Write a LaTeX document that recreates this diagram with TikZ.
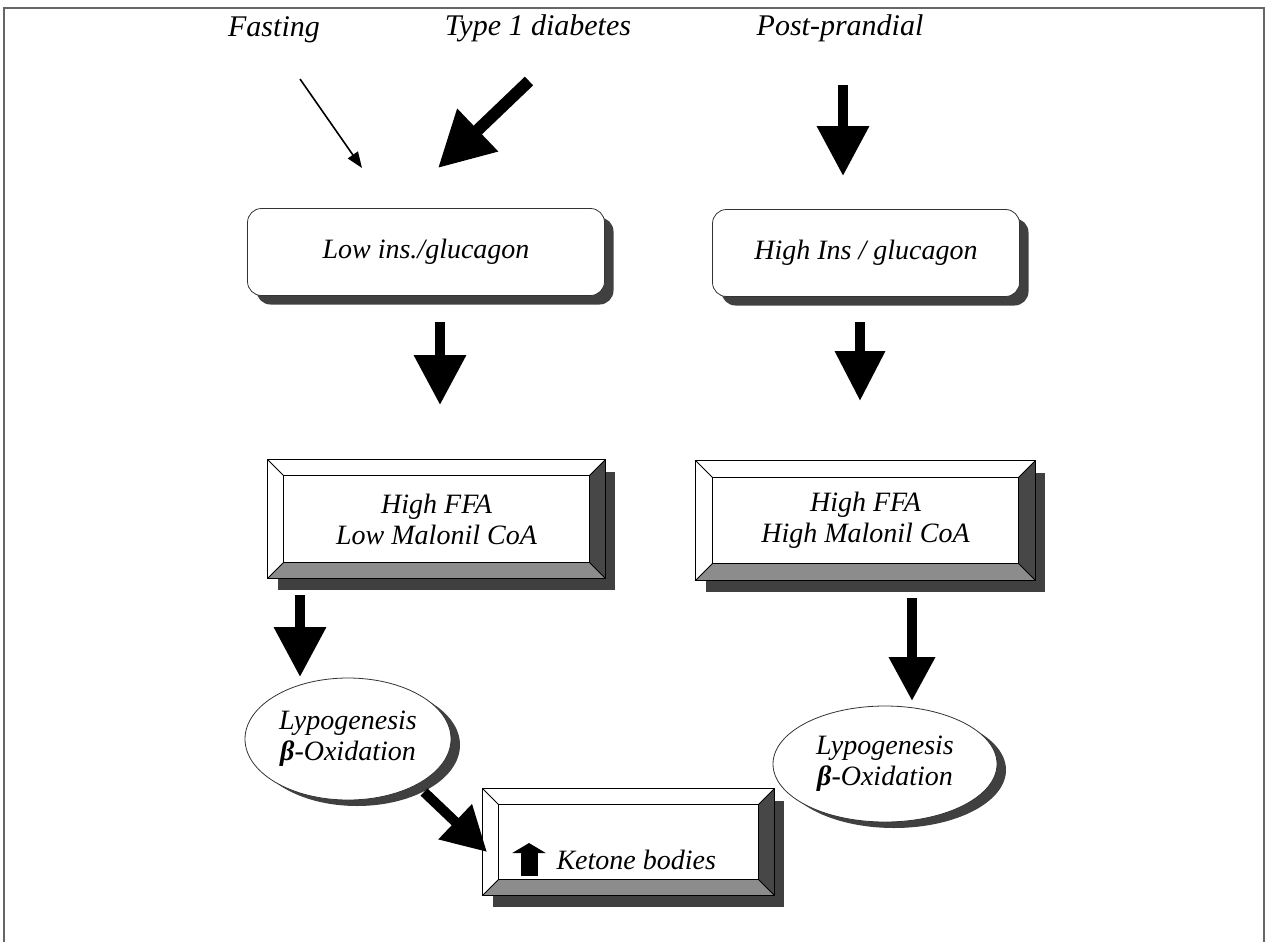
\documentclass[tikz,border=0pt]{standalone}
\usepackage{fontspec}
\setmainfont{Liberation Serif}
\usetikzlibrary{arrows.meta,shapes.geometric,shadows,calc}
\pgfdeclarelayer{background}
\pgfsetlayers{background,main}
\newcommand\bevelframe[2]{%
  \fill[black!75] ($(#1.north east)+(10,12)$) rectangle ($(#1.south west)+(10,12)$);
  \fill[white] (#1.north west) rectangle (#1.south east);
  \fill[black!45] (#1.south west) -- (#1.south east) -- ($(#1.south east)+(-#2,-#2)$) -- ($(#1.south west)+(#2,-#2)$) -- cycle;
  \fill[black!72] (#1.south east) -- (#1.north east) -- ($(#1.north east)+(-#2,#2)$) -- ($(#1.south east)+(-#2,-#2)$) -- cycle;
  \draw[line width=0.9pt] (#1.north west) rectangle (#1.south east);
  \draw[line width=0.9pt] ($(#1.north west)+(#2,#2)$) rectangle ($(#1.south east)+(-#2,-#2)$);
  \draw[line width=0.8pt] (#1.north west) -- ($(#1.north west)+(#2,#2)$);
  \draw[line width=0.8pt] (#1.north east) -- ($(#1.north east)+(-#2,#2)$);
  \draw[line width=0.8pt] (#1.south west) -- ($(#1.south west)+(#2,-#2)$);
  \draw[line width=0.8pt] (#1.south east) -- ($(#1.south east)+(-#2,-#2)$);
}
\begin{document}
\begin{tikzpicture}[x=1pt,y=-1pt,
  lbl/.style={font=\fontsize{28}{31}\selectfont\itshape, align=center, text=black},
  toplbl/.style={font=\fontsize{30}{33}\selectfont\itshape, text=black},
  rbox/.style={draw=black!80, line width=0.8pt, fill=white, rounded corners=14pt,
    minimum width=#1, minimum height=87pt, inner sep=0pt, lbl,
    drop shadow={shadow xshift=9pt, shadow yshift=-9pt, fill=black!75, opacity=1}},
  bbox/.style 2 args={minimum width=#1, minimum height=#2, inner sep=0pt, lbl},
  ell/.style 2 args={ellipse, draw=black!80, line width=0.8pt, fill=white,
    minimum width=#1, minimum height=#2, inner sep=0pt, lbl,
    drop shadow={shadow xshift=9pt, shadow yshift=-6pt, fill=black!75, opacity=1}},
  blk/.style={line width=10pt, draw=black, -{Triangle[length=50pt,width=50pt]}},
  thinarr/.style={line width=1.6pt, draw=black, -{Triangle[length=16pt,width=12pt]}},
]
\useasboundingbox (0,0) rectangle (1268,942);
% outer frame (open at bottom)
\draw[line width=2pt, black!60] (4,942) -- (4,8) -- (1264,8) -- (1264,942);

% top labels
\node[toplbl] (fast) at (274,30) {Fasting};
\node[toplbl] (t1d) at (538,28) {Type 1 diabetes};
\node[toplbl] (pp) at (840,28) {Post-prandial};

% rounded boxes
\node[rbox=357pt] (lowins) at (426,252) {Low ins./glucagon};
\node[rbox=307pt] (highins) at (866,253) {High Ins / glucagon};

% bevel boxes
\node[bbox={337pt}{118pt}] (lowffa) at (436.5,519) {High FFA\\Low Malonil CoA};
\node[bbox={339pt}{119pt}] (highffa) at (865.5,520.5) {High FFA\\High Malonil CoA};
\node[bbox={291pt}{106pt}] (keto) at (628.5,842) {};
\node[lbl, anchor=west] (ketotxt) at (553,860) {Ketone bodies};

% ellipses
\node[ell={206pt}{122pt}] (lyl) at (348,739) {Lypogenesis\\{\bfseries β}-Oxidation};
\node[ell={224pt}{116pt}] (lyr) at (885,764) {Lypogenesis\\{\bfseries β}-Oxidation};

\begin{pgfonlayer}{background}
  \bevelframe{lowffa}{16}
  \bevelframe{highffa}{17}
  \bevelframe{keto}{16}
\end{pgfonlayer}

% arrow endpoints
\coordinate (f1) at (300,79);   \coordinate (f2) at (362,168);
\coordinate (d1) at (529,81);   \coordinate (d2) at (438,168);
\coordinate (p1) at (843,85);   \coordinate (p2) at (843,176);
\coordinate (a1) at (440,322);  \coordinate (a2) at (440,405);
\coordinate (b1) at (860,322);  \coordinate (b2) at (860,401);
\coordinate (c1) at (300,595);  \coordinate (c2) at (300,677);
\coordinate (e1) at (912,598);  \coordinate (e2) at (912,701);
\coordinate (g1) at (424,792);  \coordinate (g2) at (487,852);
\coordinate (k1) at (529,876);  \coordinate (k2) at (529,843);

\draw[thinarr] (f1) -- (f2);
\draw[line width=12pt, -{Triangle[length=55pt,width=56pt]}] (d1) -- (d2);
\draw[blk] (p1) -- (p2);
\draw[blk] (a1) -- (a2);
\draw[blk, -{Triangle[length=50pt,width=48pt]}] (b1) -- (b2);
\draw[blk] (c1) -- (c2);
\draw[blk, -{Triangle[length=44pt,width=44pt]}] (e1) -- (e2);
\draw[blk, -{Triangle[length=44pt,width=46pt]}] (g1) -- (g2);
\draw[line width=17pt, -{Triangle[length=10pt,width=33pt]}] (k1) -- (k2);
\end{tikzpicture}
\end{document}
